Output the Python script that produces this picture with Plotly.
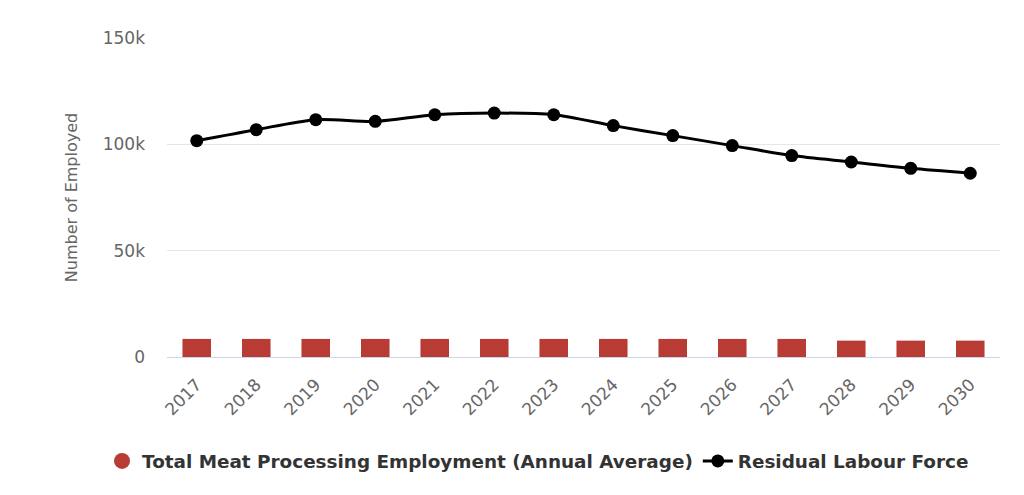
import plotly.graph_objects as go

years = ["2017", "2018", "2019", "2020", "2021", "2022", "2023", "2024", "2025", "2026", "2027", "2028", "2029", "2030"]
meat_employment = [8500, 8500, 8500, 8500, 8500, 8500, 8500, 8500, 8500, 8500, 8500, 7700, 7700, 7700]
residual_labour = [101700, 106900, 111600, 110800, 113900, 114700, 113900, 108800, 104100, 99400, 94700, 91700, 88700, 86400]
y_tickvals = [0, 50000, 100000, 150000]
y_ticktext = ["0", "50k", "100k", "150k"]

bar_name = "Total Meat Processing Employment (Annual Average)"
line_name = "Residual Labour Force"

fig = go.Figure()
fig.add_trace(go.Bar(x=years, y=meat_employment, name=bar_name, marker_color="#b83b34",
                     marker_line_width=0, showlegend=False))
# legend entry with circle symbol
fig.add_trace(go.Scatter(x=[years[0]], y=[None], mode="markers", name=bar_name,
                         marker=dict(color="#b83b34", size=17, symbol="circle")))
fig.add_trace(go.Scatter(x=years, y=residual_labour, name=line_name, mode="lines+markers",
                         line=dict(color="#000000", width=3, shape="spline", smoothing=0.8),
                         marker=dict(color="#000000", size=13)))

fig.update_layout(
    width=1024, height=495,
    paper_bgcolor="white", plot_bgcolor="white",
    margin=dict(l=167, r=24, t=38, b=138, autoexpand=False),
    bargap=0.52,
    font=dict(family="DejaVu Sans", color="#666666"),
    showlegend=True,
    legend=dict(orientation="h", x=-0.078, xanchor="left", y=-0.326, yanchor="middle",
                font=dict(family="DejaVu Sans", size=18.4, color="#333333", weight="bold"),
                itemsizing="trace", traceorder="normal", itemwidth=30),
    xaxis=dict(type="category", categoryarray=years, range=[-0.5, len(years) - 0.5],
               tickangle=-45, tickfont=dict(size=17, color="#666666"),
               showgrid=False, showline=True, linecolor="#ccd6eb", linewidth=1, ticks="",
               automargin=False, ticklabelstandoff=10),
    yaxis=dict(range=[0, 150000], tickvals=y_tickvals, ticktext=y_ticktext,
               tickfont=dict(size=17, color="#666666"), gridcolor="#e6e6e6", zeroline=False,
               automargin=False, ticklabelstandoff=21,
               title=dict(text="Number of Employed", font=dict(size=16, color="#666666"), standoff=21)),
)

fig.write_html("out.html", config={"displayModeBar": False},
               post_script="document.body.style.margin='0';document.body.style.overflow='hidden';")
